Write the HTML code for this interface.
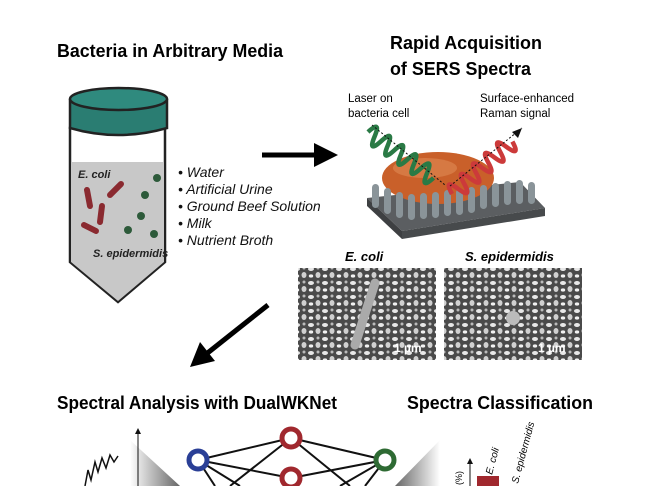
<!DOCTYPE html>
<html><head><meta charset="utf-8"><style>
html,body{margin:0;padding:0;background:#fff;}
svg{display:block}
text{font-family:"Liberation Sans","DejaVu Sans",sans-serif;}
</style></head><body>
<svg width="650" height="486" viewBox="0 0 650 486" xmlns="http://www.w3.org/2000/svg">
<defs>
<pattern id="sem" width="14" height="14" patternUnits="userSpaceOnUse">
<rect width="14" height="14" fill="#4a4a4a"/>
<ellipse cx="3" cy="3" rx="3" ry="2" fill="#e8e8e8"/><ellipse cx="10" cy="9" rx="2.5" ry="3" fill="#d0d0d0"/>
<circle cx="10" cy="2" r="1.5" fill="#bbb"/><ellipse cx="3" cy="10" rx="2.2" ry="1.6" fill="#f2f2f2"/>
</pattern>
<linearGradient id="fl" x1="0" x2="1"><stop offset="0" stop-color="#fff"/><stop offset="1" stop-color="#666"/></linearGradient>
<linearGradient id="fr" x1="1" x2="0"><stop offset="0" stop-color="#fff"/><stop offset="1" stop-color="#666"/></linearGradient>
</defs>
<text x="57" y="57" font-size="18" font-weight="bold" textLength="226" lengthAdjust="spacingAndGlyphs">Bacteria in Arbitrary Media</text>
<text x="390" y="49" font-size="18" font-weight="bold" textLength="152" lengthAdjust="spacingAndGlyphs">Rapid Acquisition</text>
<text x="390" y="75" font-size="18" font-weight="bold" textLength="141" lengthAdjust="spacingAndGlyphs">of SERS Spectra</text>
<text x="57" y="409" font-size="18" font-weight="bold" textLength="280" lengthAdjust="spacingAndGlyphs">Spectral Analysis with DualWKNet</text>
<text x="407" y="409" font-size="18" font-weight="bold" textLength="186" lengthAdjust="spacingAndGlyphs">Spectra Classification</text>

<!-- tube -->
<path d="M70 128 L70 262 L118 302 L165 262 L165 128 Z" fill="#fff" stroke="#222" stroke-width="2.5"/>
<path d="M71 162 L71 262 L118 301 L164 262 L164 162 Z" fill="#c8c8c8"/>
<path d="M70 100 L70 128 Q118 142 167 128 L167 100 Z" fill="#2a7d72" stroke="#222" stroke-width="2.5"/>
<ellipse cx="118.5" cy="99" rx="48.5" ry="11" fill="#2f8a7e" stroke="#222" stroke-width="2.5"/>
<text x="78" y="178" font-size="11" font-style="italic" font-weight="bold" fill="#222">E. coli</text>
<text x="93" y="257" font-size="11" font-style="italic" font-weight="bold" fill="#222">S. epidermidis</text>
<g stroke="#8a2a30" stroke-width="6" stroke-linecap="round">
<line x1="87" y1="190" x2="90" y2="206"/><line x1="110" y1="195" x2="121" y2="184"/>
<line x1="102" y1="206" x2="100" y2="222"/><line x1="84" y1="225" x2="96" y2="231"/>
</g>
<g fill="#2d5a3a"><circle cx="157" cy="178" r="4"/><circle cx="145" cy="195" r="4"/><circle cx="141" cy="216" r="4"/><circle cx="128" cy="230" r="4"/><circle cx="154" cy="234" r="4"/></g>
<g font-size="14" font-style="italic" fill="#111">
<text x="178" y="177">• Water</text><text x="178" y="194">• Artificial Urine</text>
<text x="178" y="211">• Ground Beef Solution</text><text x="178" y="228">• Milk</text>
<text x="178" y="245">• Nutrient Broth</text></g>

<!-- arrows -->
<line x1="262" y1="155" x2="318" y2="155" stroke="#000" stroke-width="5"/>
<polygon points="314,143 338,155 314,167" fill="#000"/>
<line x1="268" y1="305" x2="205" y2="355" stroke="#000" stroke-width="5"/>
<polygon points="190,367 200,342 215,361" fill="#000"/>

<!-- SERS -->
<text x="348" y="102" font-size="11.5">Laser on</text><text x="348" y="117" font-size="11.5">bacteria cell</text>
<text x="480" y="102" font-size="11.5">Surface-enhanced</text><text x="480" y="117" font-size="11.5">Raman signal</text>
<polygon points="367,198 520,182 545,208 402,231" fill="#5b5e61"/>
<polygon points="367,198 402,231 402,239 367,206" fill="#3e4042"/>
<polygon points="402,231 545,208 545,216 402,239" fill="#474a4c"/>
<ellipse cx="438" cy="178" rx="56" ry="26" fill="#c9602a"/>
<ellipse cx="425" cy="168" rx="32" ry="10" fill="#e08a55" opacity=".6"/>
<g fill="#8a9499">
<rect x="372" y="184" width="7" height="24" rx="3.5"/><rect x="384" y="188" width="7" height="26" rx="3.5"/><rect x="396" y="192" width="7" height="26" rx="3.5"/><rect x="408" y="194" width="7" height="26" rx="3.5"/><rect x="420" y="193" width="7" height="26" rx="3.5"/><rect x="432" y="192" width="7" height="26" rx="3.5"/><rect x="444" y="190" width="7" height="26" rx="3.5"/><rect x="456" y="189" width="7" height="26" rx="3.5"/><rect x="468" y="187" width="7" height="26" rx="3.5"/><rect x="480" y="185" width="7" height="24" rx="3.5"/><rect x="492" y="183" width="7" height="24" rx="3.5"/><rect x="504" y="181" width="7" height="24" rx="3.5"/><rect x="516" y="180" width="7" height="24" rx="3.5"/><rect x="528" y="182" width="7" height="22" rx="3.5"/>
</g>
<path d="M0 0 q4 -18 8 0 t8 0 t8 0 t8 0 t8 0 t8 0 t8 0 t8 0 t8 0 t8 0" fill="none" stroke="#2a7a45" stroke-width="4.5" transform="translate(368 132) rotate(35)"/>
<path d="M0 0 q4 -18 8 0 t8 0 t8 0 t8 0 t8 0 t8 0 t8 0 t8 0 t8 0 t8 0" fill="none" stroke="#cc3a3a" stroke-width="4.5" transform="translate(452 194) rotate(-41)"/>
<line x1="372" y1="125" x2="445" y2="185" stroke="#111" stroke-dasharray="2 2"/>
<line x1="450" y1="186" x2="522" y2="128" stroke="#111" stroke-dasharray="2 2"/>
<polygon points="522,128 512,132 518,138" fill="#111"/>

<text x="345" y="261" font-size="13" font-weight="bold" font-style="italic">E. coli</text>
<text x="465" y="261" font-size="13" font-weight="bold" font-style="italic">S. epidermidis</text>
<rect x="298" y="268" width="138" height="92" fill="url(#sem)"/>
<rect x="444" y="268" width="138" height="92" fill="url(#sem)"/>
<line x1="375" y1="283" x2="355" y2="345" stroke="#aaa" stroke-width="9" stroke-linecap="round"/>
<circle cx="513" cy="318" r="7" fill="#bbb"/>
<text x="394" y="352" font-size="12" fill="#fff" font-weight="bold">1 µm</text>
<text x="538" y="352" font-size="12" fill="#fff" font-weight="bold">1 µm</text>

<!-- bottom -->
<polygon points="130,440 180,486 130,486" fill="url(#fl)"/>
<polygon points="440,440 395,486 440,486" fill="url(#fr)"/>
<path d="M85 486 L88 470 L91 480 L95 462 L98 472 L102 458 L106 468 L110 455 L114 462 L118 456" fill="none" stroke="#111" stroke-width="1.5"/>
<line x1="138" y1="486" x2="138" y2="432" stroke="#111"/><polygon points="135,434 138,428 141,434" fill="#111"/>
<g stroke="#111" stroke-width="2">
<line x1="198" y1="460" x2="291" y2="438"/><line x1="198" y1="460" x2="291" y2="478"/><line x1="198" y1="460" x2="240" y2="486"/><line x1="198" y1="460" x2="215" y2="486"/>
<line x1="291" y1="438" x2="385" y2="460"/><line x1="291" y1="478" x2="385" y2="460"/><line x1="291" y1="438" x2="230" y2="486"/><line x1="291" y1="438" x2="350" y2="486"/>
<line x1="385" y1="460" x2="340" y2="486"/><line x1="385" y1="460" x2="365" y2="486"/>
</g>
<g fill="#fff" stroke-width="5">
<circle cx="198" cy="460" r="9" stroke="#2a3f96"/><circle cx="291" cy="438" r="9" stroke="#a0282e"/>
<circle cx="291" cy="478" r="9" stroke="#a0282e"/><circle cx="385" cy="460" r="9" stroke="#2e6a33"/>
</g>
<line x1="470" y1="486" x2="470" y2="462" stroke="#111"/><polygon points="467,464 470,458 473,464" fill="#111"/>
<rect x="477" y="476" width="22" height="10" fill="#a0282e"/>
<text x="0" y="0" font-size="10" font-style="italic" transform="translate(492 475) rotate(-75)">E. coli</text>
<text x="0" y="0" font-size="10" font-style="italic" transform="translate(518 484) rotate(-75)">S. epidermidis</text>
<text x="0" y="0" font-size="9" transform="translate(462 485) rotate(-90)">(%)</text>
</svg>
</body></html>
